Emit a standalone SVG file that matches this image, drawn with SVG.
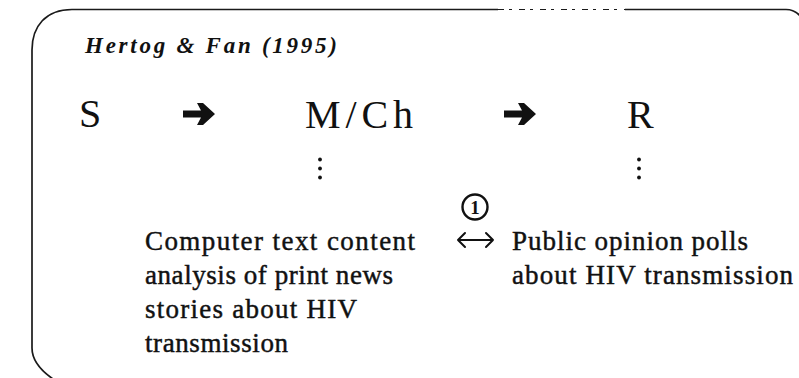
<svg xmlns="http://www.w3.org/2000/svg" width="799" height="378" viewBox="0 0 799 378">
  <style>
    .frame { fill: none; stroke: #1a1a1a; stroke-width: 1.7; }
    text { font-family: 'Liberation Serif', 'DejaVu Serif', 'Times New Roman', serif; fill: #111; }
    .title { font-size: 23px; font-style: italic; font-weight: bold; }
    .stage { font-size: 40px; }
    .body { font-size: 27px; stroke: #111; stroke-width: 0.45; }
    .dot { fill: #111; }
    .thin { fill: none; stroke: #111; stroke-width: 2; stroke-linecap: round; stroke-linejoin: round; }
  </style>
  <defs>
    <!-- heavy right-pointing arrow, origin at shaft start, centred vertically -->
    <path id="heavyArrow" d="M0,-3.5 L18,-3.5 L14,-11 L20,-11 L32,0 L20,11 L14,11 L18,3.5 L0,3.5 Z" fill="#111"/>
    <g id="vdots">
      <circle class="dot" cx="0" cy="0" r="1.9"/>
      <circle class="dot" cx="0" cy="9" r="1.9"/>
      <circle class="dot" cx="0" cy="18" r="1.9"/>
    </g>
  </defs>

  <!-- rounded frame, running past the right and bottom edges -->
  <path class="frame" d="M56,381 C42,372 32,362 32,348 L32,50 C32,26 46,9.5 72,9.5 L498,9.5 M625,9.5 L786,9.5 C792,9.5 797,12 801,17"/>
  <path d="M498,9.5 L625,9.5" fill="none" stroke="#1a1a1a" stroke-width="1.2" stroke-dasharray="6 5 3 7"/>

  <g id="title">
    <text class="title" x="85" y="53" textLength="252" lengthAdjust="spacing">Hertog &amp; Fan (1995)</text>
  </g>

  <g id="node-s">
    <text class="stage" x="79" y="127">S</text>
  </g>
  <g id="node-mch">
    <text class="stage" x="305" y="128" textLength="108" lengthAdjust="spacing">M/Ch</text>
    <use href="#vdots" x="320" y="159.5"/>
  </g>
  <g id="node-r">
    <text class="stage" x="627" y="128">R</text>
    <use href="#vdots" x="639" y="159.5"/>
  </g>

  <g id="connectors">
    <use href="#heavyArrow" x="183" y="114"/>
    <use href="#heavyArrow" x="504" y="114"/>
    <!-- two-way link between the two measures -->
    <path class="thin" d="M458,240 H493 M465,233 L458,240 L465,247 M486,233 L493,240 L486,247"/>
    <circle cx="475" cy="207" r="12.5" fill="none" stroke="#111" stroke-width="2.4"/>
    <text x="475" y="214" font-size="19" font-weight="bold" text-anchor="middle">1</text>
  </g>

  <g id="media-measure">
    <text class="body" x="145" y="250" textLength="270" lengthAdjust="spacing">Computer text content</text>
    <text class="body" x="145" y="284" textLength="248" lengthAdjust="spacing">analysis of print news</text>
    <text class="body" x="145" y="318" textLength="212" lengthAdjust="spacing">stories about HIV</text>
    <text class="body" x="145" y="352" textLength="143" lengthAdjust="spacing">transmission</text>
  </g>

  <g id="receiver-measure">
    <text class="body" x="512" y="250" textLength="236" lengthAdjust="spacing">Public opinion polls</text>
    <text class="body" x="512" y="284" textLength="281" lengthAdjust="spacing">about HIV transmission</text>
  </g>
</svg>
